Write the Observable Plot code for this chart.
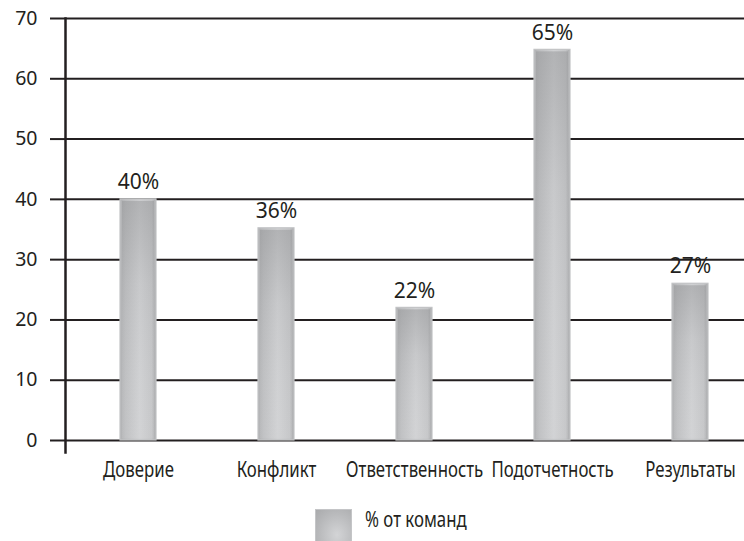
<!DOCTYPE html>
<html>
<head>
<meta charset="utf-8">
<script src="https://cdn.jsdelivr.net/npm/d3@7"></script>
<script src="https://cdn.jsdelivr.net/npm/@observablehq/plot@0.6"></script>
<style>
  html, body { margin: 0; padding: 0; background: #fff; }
  #chart { width: 744px; }
  .legend { position: relative; height: 46px; font-family: "Noto Sans", sans-serif; font-size: 21px; color: #231f20; }
  .legend .sw { position: absolute; left: 315px; top: 14px; width: 37px; height: 33px; box-sizing: border-box; border: 1px solid #c4c5c7;
    background: radial-gradient(ellipse at 60% 80%, #d3d4d6 0%, #b9babc 60%, #a9aaac 100%); }
  .legend .lt { position: absolute; left: 365px; top: 10px; transform: scaleX(0.8); transform-origin: 0 50%; white-space: nowrap; }
</style>
</head>
<body>
<div id="chart"></div>
<script>
const categories = ["Доверие", "Конфликт", "Ответственность", "Подотчетность", "Результаты"];
const values = [40, 35.2, 22, 64.8, 26];
const labels = ["40%", "36%", "22%", "65%", "27%"];
const yTicks = [0, 10, 20, 30, 40, 50, 60, 70];
const seriesName = "% от команд";

const data = categories.map((c, i) => ({category: c, value: values[i], label: labels[i]}));

const plot = Plot.plot({
  width: 744,
  height: 495,
  marginLeft: 65,
  marginRight: 0,
  marginTop: 18,
  marginBottom: 43,
  style: {fontFamily: '"Noto Sans", sans-serif', color: "#231f20", background: "#fff", overflow: "visible"},
  x: {domain: categories, range: [67.6, 761.4], paddingInner: 0.737, paddingOuter: 0.3685, label: null},
  y: {domain: [0, 70], range: [440, 18], label: null},
  marks: [
    Plot.ruleY(yTicks, {stroke: "#231f20", strokeWidth: 2}),
    Plot.axisY({ticks: yTicks, tickSize: 15, tickPadding: 13, stroke: "#231f20", strokeWidth: 2, fontSize: 19.5, label: null, tickFormat: d => d}),
    Plot.barY(data, {x: "category", y: "value", fill: "url(#barH)", stroke: "#c2c3c5", strokeWidth: 1.2}),
    Plot.barY(data, {x: "category", y: "value", fill: "url(#barV)", inset: 2}),
    Plot.text(data, {x: "category", y: "value", text: "label", dy: -17, fontSize: 21, fill: "#231f20"}),
    Plot.axisX({tickSize: 0, tickPadding: 10, fontSize: 21, label: null}),
    Plot.frame({anchor: "left", stroke: "#231f20", strokeWidth: 2.5})
  ]
});

const svg = d3.select(plot);
const defs = svg.insert("defs", ":first-child");
const gH = defs.append("linearGradient").attr("id", "barH").attr("x1", 0).attr("x2", 1).attr("y1", 0).attr("y2", 0);
gH.append("stop").attr("offset", "0%").attr("stop-color", "#b0b1b3");
gH.append("stop").attr("offset", "15%").attr("stop-color", "#bebfc1");
gH.append("stop").attr("offset", "55%").attr("stop-color", "#d0d1d3");
gH.append("stop").attr("offset", "88%").attr("stop-color", "#c4c5c7");
gH.append("stop").attr("offset", "100%").attr("stop-color", "#a9aaac");
const gV = defs.append("linearGradient").attr("id", "barV").attr("x1", 0).attr("x2", 0).attr("y1", 0).attr("y2", 1);
gV.append("stop").attr("offset", "0%").attr("stop-color", "#8e8f91").attr("stop-opacity", 0.45);
gV.append("stop").attr("offset", "35%").attr("stop-color", "#8e8f91").attr("stop-opacity", 0.12);
gV.append("stop").attr("offset", "100%").attr("stop-color", "#ffffff").attr("stop-opacity", 0.05);

document.getElementById("chart").appendChild(plot);

// condense the category labels (the reference uses a condensed face)
svg.selectAll('[aria-label="x-axis tick label"] text').each(function() {
  const b = this.getBBox();
  const cx = b.x + b.width / 2;
  const tr = this.getAttribute("transform") || "";
  this.setAttribute("transform", `${tr} translate(${cx},0) scale(0.8,1) translate(${-cx},0)`);
});

const legend = document.createElement("div");
legend.className = "legend";
legend.innerHTML = `<div class="sw"></div><div class="lt"></div>`;
legend.querySelector(".lt").textContent = seriesName;
document.body.appendChild(legend);
</script>
</body>
</html>
